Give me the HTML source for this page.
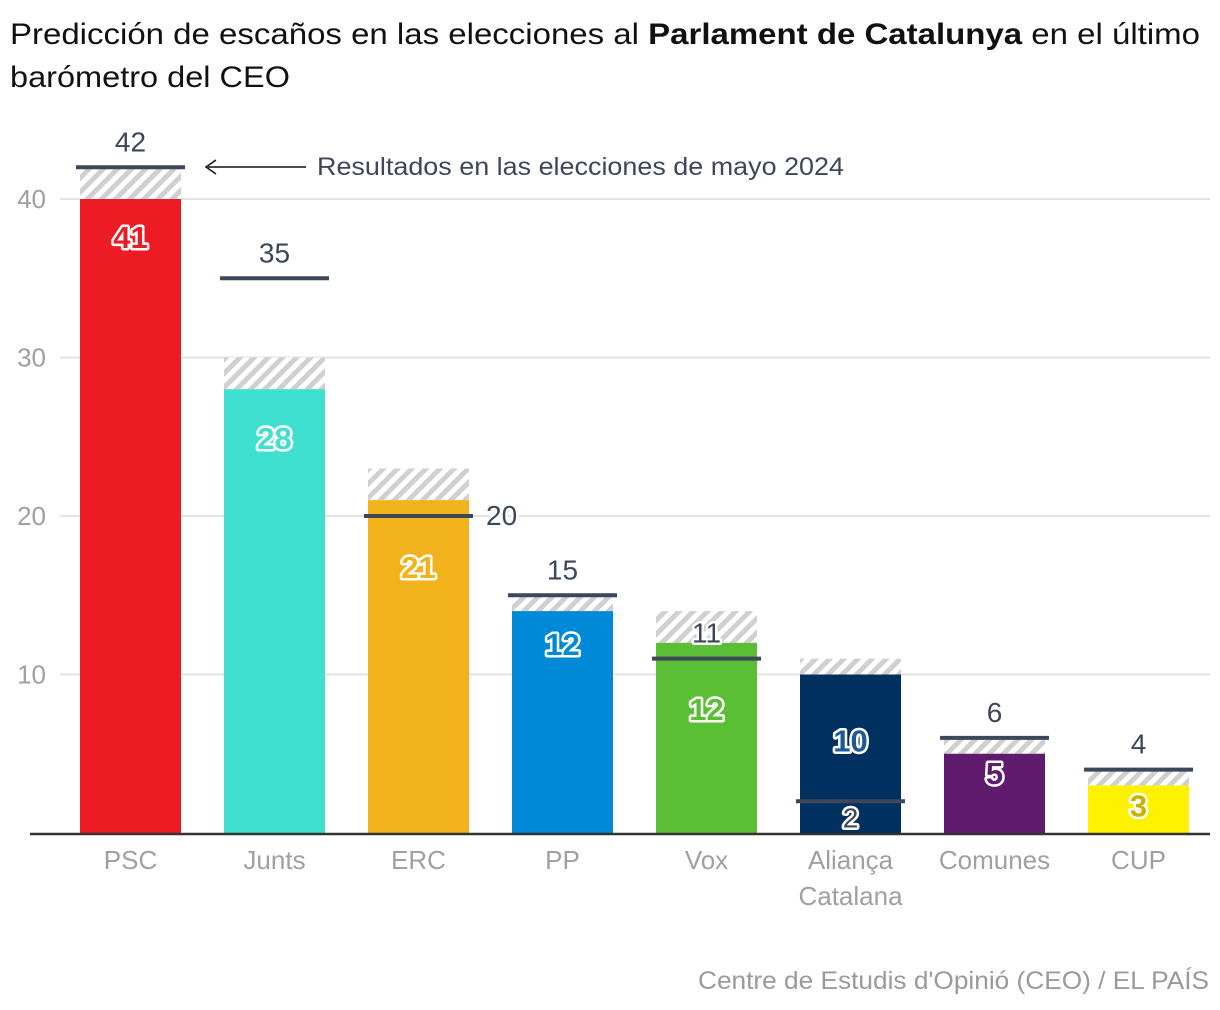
<!DOCTYPE html>
<html><head><meta charset="utf-8">
<style>
html,body{margin:0;padding:0;background:#fff;}
svg{display:block;font-family:"Liberation Sans",sans-serif;}
.halo{paint-order:stroke;stroke:#fff;stroke-width:5px;stroke-linejoin:round;}
</style></head>
<body>
<svg id="chart" width="1220" height="1010" viewBox="0 0 1220 1010" xmlns="http://www.w3.org/2000/svg">
<defs>
<pattern id="hatch" patternUnits="userSpaceOnUse" width="10" height="10" patternTransform="rotate(45)">
<rect width="10" height="10" fill="#fff"/>
<rect width="5" height="10" fill="#d0d0d0"/>
</pattern>
</defs>
<text x="10" y="44" font-size="30" fill="#111" textLength="1190" lengthAdjust="spacingAndGlyphs">Predicción de escaños en las elecciones al <tspan font-weight="bold">Parlament de Catalunya</tspan> en el último</text>
<text x="10" y="87" font-size="30" fill="#111" textLength="280" lengthAdjust="spacingAndGlyphs">barómetro del CEO</text>
<g id="grid"></g>
<g id="bars"></g>
<g id="xaxis"></g>
<g>
<line x1="208" y1="167" x2="306" y2="167" stroke="#111" stroke-width="1.5"/>
<path d="M216 160 L206 167 L216 174" fill="none" stroke="#111" stroke-width="1.5"/>
<text x="317" y="175" font-size="25" fill="#3c475a" textLength="527" lengthAdjust="spacingAndGlyphs">Resultados en las elecciones de mayo 2024</text>
</g>
<text x="1209" y="989" font-size="25" fill="#9a9a9a" text-anchor="end" textLength="511" lengthAdjust="spacingAndGlyphs">Centre de Estudis d'Opinió (CEO) / EL PAÍS</text>
</svg>
<script>
const categories = ["PSC","Junts","ERC","PP","Vox","Aliança|Catalana","Comunes","CUP"];
const predLow = [40,28,21,14,12,10,5,3];
const predHigh = [42,30,23,15,14,11,6,4];
const predMid = [41,28,21,12,12,10,5,3];
const prev2024 = [42,35,20,15,11,2,6,4];
const yTicks = [10,20,30,40];
const colors = ["#ed1c24","#40e0d0","#f2b21b","#0089d7","#5bbf36","#003060","#601b6e","#fff200"];
const labelColors = ["#ed1c24","#40e0d0","#f2b21b","#0089d7","#5bbf36","#1f5a96","#601b6e","#c8b400"];
const labelDy = [38,49,67,33,66,66,19,20];
const prevLabelPos = ["top","top","right","top","top","bottom","top","top"];

const NS="http://www.w3.org/2000/svg";
const y0=833, pxPerUnit=15.85;
const y=v=>y0-v*pxPerUnit;
const x0=80, step=144, bw=101;
const x=i=>x0+i*step;
function mk(tag,attrs,parent){const e=document.createElementNS(NS,tag);for(const k in attrs)e.setAttribute(k,attrs[k]);parent.appendChild(e);return e;}

const grid=document.getElementById('grid');
yTicks.forEach(t=>{
  const l=mk('line',{x1:60,x2:1210,y1:y(t),y2:y(t),stroke:'#e2e2e2','stroke-width':2},grid);
  
  
  const tx=mk('text',{x:46,y:y(t)+9,'font-size':26,fill:'#a0a0a0','text-anchor':'end'},grid);
  tx.textContent=t;
  
  
});

const bars=document.getElementById('bars');
categories.forEach((c,i)=>{
  const h=mk('rect',{x:x(i),y:y(predHigh[i]),width:bw,height:y(predLow[i])-y(predHigh[i]),fill:'url(#hatch)'},bars);
  
  
  const b=mk('rect',{x:x(i),y:y(predLow[i]),width:bw,height:y0-y(predLow[i]),fill:colors[i]},bars);
  
  
});
categories.forEach((c,i)=>{
  const ly=y(prev2024[i]);
  const l=mk('line',{x1:x(i)-4,x2:x(i)+bw+4,y1:ly,y2:ly,stroke:'#3c475a','stroke-width':4},bars);
  
  
  let tx;
  if(prevLabelPos[i]==='right') tx=mk('text',{x:x(i)+bw+17,y:ly+9,'font-size':28,fill:'#3c475a',class:'halo'},bars);
  else if(prevLabelPos[i]==='bottom') tx=mk('text',{x:x(i)+bw/2,y:ly+26,'font-size':28,fill:'#3c475a','text-anchor':'middle',class:'halo'},bars);
  else tx=mk('text',{x:x(i)+bw/2,y:ly-16,'font-size':28,fill:'#3c475a','text-anchor':'middle',class:'halo'},bars);
  tx.textContent=prev2024[i];
  
  
});
categories.forEach((c,i)=>{
  const tx=mk('text',{x:x(i)+bw/2,y:y(predLow[i])+labelDy[i]+11,'font-size':31,'font-weight':'bold',fill:labelColors[i],'text-anchor':'middle',class:'halo'},bars);
  tx.textContent=predMid[i];
  
  
});

const xa=document.getElementById('xaxis');
const ax=mk('line',{x1:30,x2:1210,y1:y0+1,y2:y0+1,stroke:'#333','stroke-width':2.5},xa);


categories.forEach((c,i)=>{
  c.split('|').forEach((part,k)=>{
    const tx=mk('text',{x:x(i)+bw/2,y:869+k*36,'font-size':26,fill:'#a0a0a0','text-anchor':'middle'},xa);
    tx.textContent=part;
    
    
  });
});
</script>
</body></html>
